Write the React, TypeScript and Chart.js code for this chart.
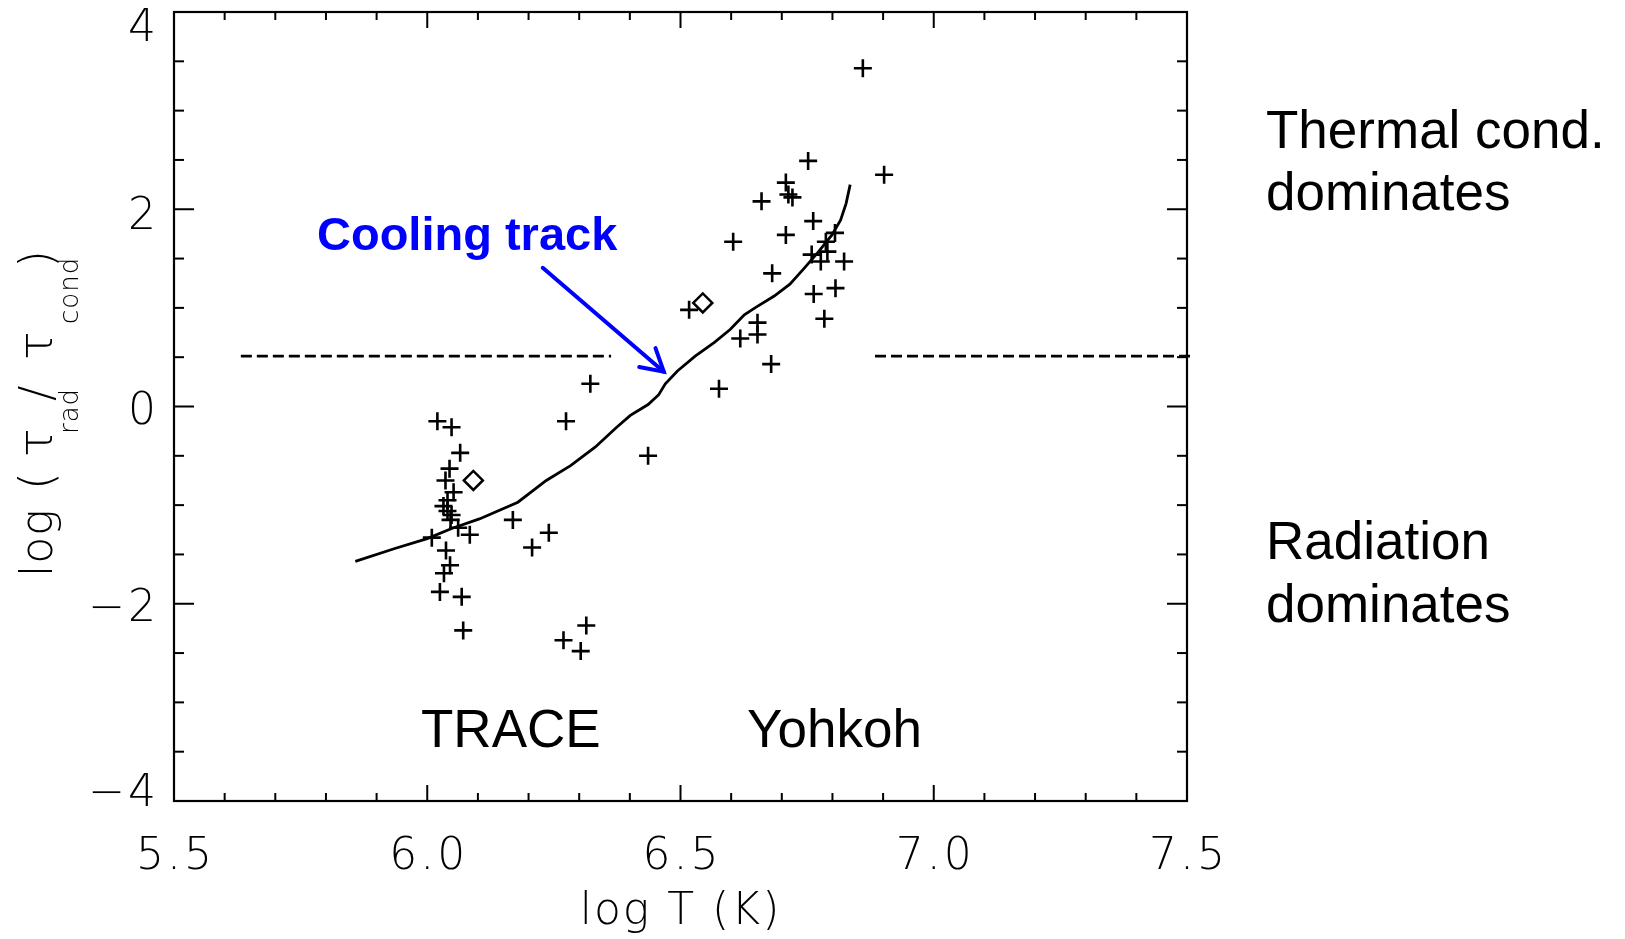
import React, { useEffect, useRef } from "react";
import { Chart, registerables } from "chart.js";

Chart.register(...registerables);

// ---- data ----
const crossX = [
  6.020, 6.048, 6.065, 6.044, 6.036, 6.052, 6.040, 6.032, 6.040, 6.048,
  6.046, 6.061, 6.084, 6.009, 6.037, 6.045, 6.033, 6.025, 6.068, 6.071,
  6.169, 6.240, 6.207, 6.314, 6.269, 6.303, 6.274, 6.436, 6.322,
  6.517, 6.576, 6.679, 6.618, 6.652, 6.652, 6.784, 6.763, 6.806, 6.681,
  6.777, 6.823, 6.759, 6.790, 6.787, 6.604, 6.708, 6.805, 6.762, 6.660,
  6.713, 6.721, 6.708, 6.902, 6.752, 6.860,
];
const crossY = [
  -0.15, -0.21, -0.47, -0.63, -0.75, -0.87, -0.95, -1.01, -1.06, -1.10,
  -1.15, -1.23, -1.30, -1.33, -1.46, -1.61, -1.69, -1.88, -1.93, -2.27,
  -1.15, -1.28, -1.43, -2.22, -2.37, -2.48, -0.15, -0.50, 0.23,
  0.98, 0.18, 0.43, 0.69, 0.73, 0.85, 0.89, 1.14, 1.20, 1.35,
  1.47, 1.47, 1.54, 1.57, 1.67, 1.67, 1.74, 1.76, 1.88, 2.08,
  2.15, 2.12, 2.27, 2.35, 2.49, 3.43,
];
const diamondX = [6.091, 6.544];
const diamondY = [-0.75, 1.05];

const curveX = [
  5.858, 5.936, 6.000, 6.047, 6.103, 6.179, 6.235, 6.283, 6.332, 6.374,
  6.401, 6.436, 6.457, 6.470, 6.494, 6.529, 6.567, 6.598, 6.626, 6.647,
  6.685, 6.716, 6.744, 6.771, 6.799, 6.816, 6.827, 6.835,
];
const curveY = [
  -1.57, -1.44, -1.34, -1.24, -1.14, -0.97, -0.75, -0.60, -0.41, -0.21,
  -0.09, 0.02, 0.12, 0.23, 0.36, 0.51, 0.65, 0.78, 0.93, 1.00,
  1.12, 1.24, 1.40, 1.56, 1.74, 1.89, 2.06, 2.25,
];

const thresholdY = 0.51;
const dashLeftX = [5.632, 6.363];
const dashRightX = [6.884, 7.51];

const arrowX = [6.228, 6.467];
const arrowY = [1.406, 0.353];

const xMin = 5.5;
const xMax = 7.5;
const yMin = -4;
const yMax = 4;
const xMajorTicks = [5.5, 6.0, 6.5, 7.0, 7.5];
const xTickLabels = ["5.5", "6.0", "6.5", "7.0", "7.5"];
const yMajorTicks = [-4, -2, 0, 2, 4];
const yTickLabels = ["\u22124", "\u22122", "0", "2", "4"];
const xMinorStep = 0.1;
const yMinorStep = 0.5;

const xTitle = "log T (K)";
const coolingLabel = "Cooling track";
const traceLabel = "TRACE";
const yohkohLabel = "Yohkoh";
const upperNote = ["Thermal cond.", "dominates"];
const lowerNote = ["Radiation", "dominates"];

const AXIS_FONT = '"DejaVu Sans", "Liberation Sans", sans-serif';
const TEXT_FONT = '"Liberation Sans", Arial, Helvetica, sans-serif';

const toPts = (xs: number[], ys: number[]) => xs.map((v, i) => ({ x: v, y: ys[i] }));

const decorPlugin = {
  id: "decor",
  beforeDraw(chart: any) {
    const ctx = chart.ctx;
    ctx.save();
    ctx.fillStyle = "#ffffff";
    ctx.fillRect(0, 0, chart.width, chart.height);
    ctx.restore();
  },
  afterDraw(chart: any) {
    const ctx: any = chart.ctx;
    const { left, right, top, bottom } = chart.chartArea;
    const xs = chart.scales.x;
    const ys = chart.scales.y;
    ctx.save();
    ctx.strokeStyle = "#000";
    ctx.fillStyle = "#000";
    ctx.lineWidth = 2.2;
    ctx.lineCap = "butt";
    ctx.strokeRect(left, top, right - left, bottom - top);

    const line = (a: number, b: number, c: number, d: number) => {
      ctx.beginPath();
      ctx.moveTo(a, b);
      ctx.lineTo(c, d);
      ctx.stroke();
    };
    ctx.lineWidth = 2;
    const nx = Math.round((xMax - xMin) / xMinorStep);
    for (let i = 0; i <= nx; i++) {
      const v = xMin + i * xMinorStep;
      const px = xs.getPixelForValue(v);
      const major = xMajorTicks.some((m) => Math.abs(m - v) < 1e-6);
      const len = major ? 16 : 8;
      line(px, bottom, px, bottom - len);
      line(px, top, px, top + len);
    }
    const ny = Math.round((yMax - yMin) / yMinorStep);
    for (let i = 0; i <= ny; i++) {
      const v = yMin + i * yMinorStep;
      const py = ys.getPixelForValue(v);
      const major = yMajorTicks.some((m) => Math.abs(m - v) < 1e-6);
      const len = major ? 20 : 10;
      line(left, py, left + len, py);
      line(right, py, right - len, py);
    }

    // tick labels
    ctx.font = `200 44px ${AXIS_FONT}`;
    ctx.letterSpacing = "3px";
    ctx.textBaseline = "alphabetic";
    ctx.textAlign = "center";
    xMajorTicks.forEach((v, i) => {
      ctx.fillText(xTickLabels[i], xs.getPixelForValue(v) + 1.5, 869);
    });
    ctx.textAlign = "right";
    yMajorTicks.forEach((v, i) => {
      const py = ys.getPixelForValue(v);
      const off = v === yMax ? 13 : v === yMin ? -11 : v === 2 ? 4 : 1.5;
      ctx.fillText(yTickLabels[i], 159, py + off + 16);
    });

    // x title
    ctx.textAlign = "center";
    ctx.letterSpacing = "2px";
    ctx.fillText(xTitle, (left + right) / 2, 924);

    // y title (rotated, with subscripts)
    const pieces: [string, number, number, number][] = [
      ["log", 44, 577, 52],
      ["(", 46, 490, 52],
      ["\u03C4", 48, 457, 52],
      ["rad", 26, 434, 78],
      ["/", 46, 401, 52],
      ["\u03C4", 48, 360, 52],
      ["cond", 26, 324, 78],
      [")", 46, 268, 52],
    ];
    ctx.save();
    ctx.rotate(-Math.PI / 2);
    ctx.textAlign = "left";
    ctx.letterSpacing = "1px";
    pieces.forEach(([t, size, startY, baseX]) => {
      ctx.font = `200 ${size}px ${AXIS_FONT}`;
      ctx.fillText(t, -startY, baseX);
    });
    ctx.restore();
    ctx.letterSpacing = "0px";

    // annotation texts
    ctx.textAlign = "left";
    ctx.textBaseline = "alphabetic";
    ctx.font = `53px ${TEXT_FONT}`;
    ctx.fillText(upperNote[0], 1266, 148);
    ctx.fillText(upperNote[1], 1266, 210);
    ctx.fillText(lowerNote[0], 1266, 559);
    ctx.fillText(lowerNote[1], 1266, 622);
    ctx.fillText(traceLabel, 421, 747);
    ctx.fillText(yohkohLabel, 747, 747);

    ctx.fillStyle = "#0000ff";
    ctx.font = `bold 47px ${TEXT_FONT}`;
    ctx.fillText(coolingLabel, 317, 250);

    // arrow
    const x0 = xs.getPixelForValue(arrowX[0]);
    const y0 = ys.getPixelForValue(arrowY[0]);
    const x1 = xs.getPixelForValue(arrowX[1]);
    const y1 = ys.getPixelForValue(arrowY[1]);
    ctx.strokeStyle = "#0000ff";
    ctx.lineWidth = 4;
    ctx.lineCap = "round";
    ctx.lineJoin = "miter";
    line(x0, y0, x1, y1);
    const ang = Math.atan2(y1 - y0, x1 - x0) + Math.PI;
    const hl = 25;
    const spread = Math.PI / 6;
    ctx.beginPath();
    ctx.moveTo(x1 + hl * Math.cos(ang - spread), y1 + hl * Math.sin(ang - spread));
    ctx.lineTo(x1, y1);
    ctx.lineTo(x1 + hl * Math.cos(ang + spread), y1 + hl * Math.sin(ang + spread));
    ctx.stroke();
    ctx.restore();
  },
};

export default function App() {
  const ref = useRef<HTMLCanvasElement | null>(null);
  useEffect(() => {
    if (!ref.current) return;
    const chart = new Chart(ref.current, {
      type: "scatter",
      data: {
        datasets: [
          {
            type: "line",
            data: toPts(curveX, curveY),
            borderColor: "#000",
            borderWidth: 2.8,
            pointRadius: 0,
            tension: 0,
            fill: false,
          } as any,
          {
            type: "line",
            data: toPts(dashLeftX, dashLeftX.map(() => thresholdY)),
            borderColor: "#000",
            borderWidth: 2.8,
            borderDash: [11, 5],
            pointRadius: 0,
            fill: false,
          } as any,
          {
            type: "line",
            data: toPts(dashRightX, dashRightX.map(() => thresholdY)),
            borderColor: "#000",
            borderWidth: 2.8,
            borderDash: [11, 5],
            pointRadius: 0,
            fill: false,
            clip: false,
          } as any,
          {
            data: toPts(crossX, crossY),
            pointStyle: "cross",
            pointRadius: 9,
            borderColor: "#000",
            borderWidth: 2.6,
            showLine: false,
          } as any,
          {
            data: toPts(diamondX, diamondY),
            pointStyle: "rectRot",
            pointRadius: 9.5,
            borderColor: "#000",
            backgroundColor: "rgba(255,255,255,0)",
            borderWidth: 2.5,
            showLine: false,
          } as any,
        ],
      },
      options: {
        responsive: false,
        animation: false,
        devicePixelRatio: 1,
        layout: { padding: { left: 174, right: 438, top: 10, bottom: 138 } },
        plugins: { legend: { display: false }, tooltip: { enabled: false } },
        scales: {
          x: { type: "linear", min: xMin, max: xMax, display: false },
          y: { type: "linear", min: yMin, max: yMax, display: false },
        },
      },
      plugins: [decorPlugin],
    });
    return () => chart.destroy();
  }, []);
  return (
    <div style={{ position: "absolute", left: 0, top: 0, width: 1625, height: 939, background: "#fff" }}>
      <canvas ref={ref} width={1625} height={939} style={{ display: "block" }} />
    </div>
  );
}
